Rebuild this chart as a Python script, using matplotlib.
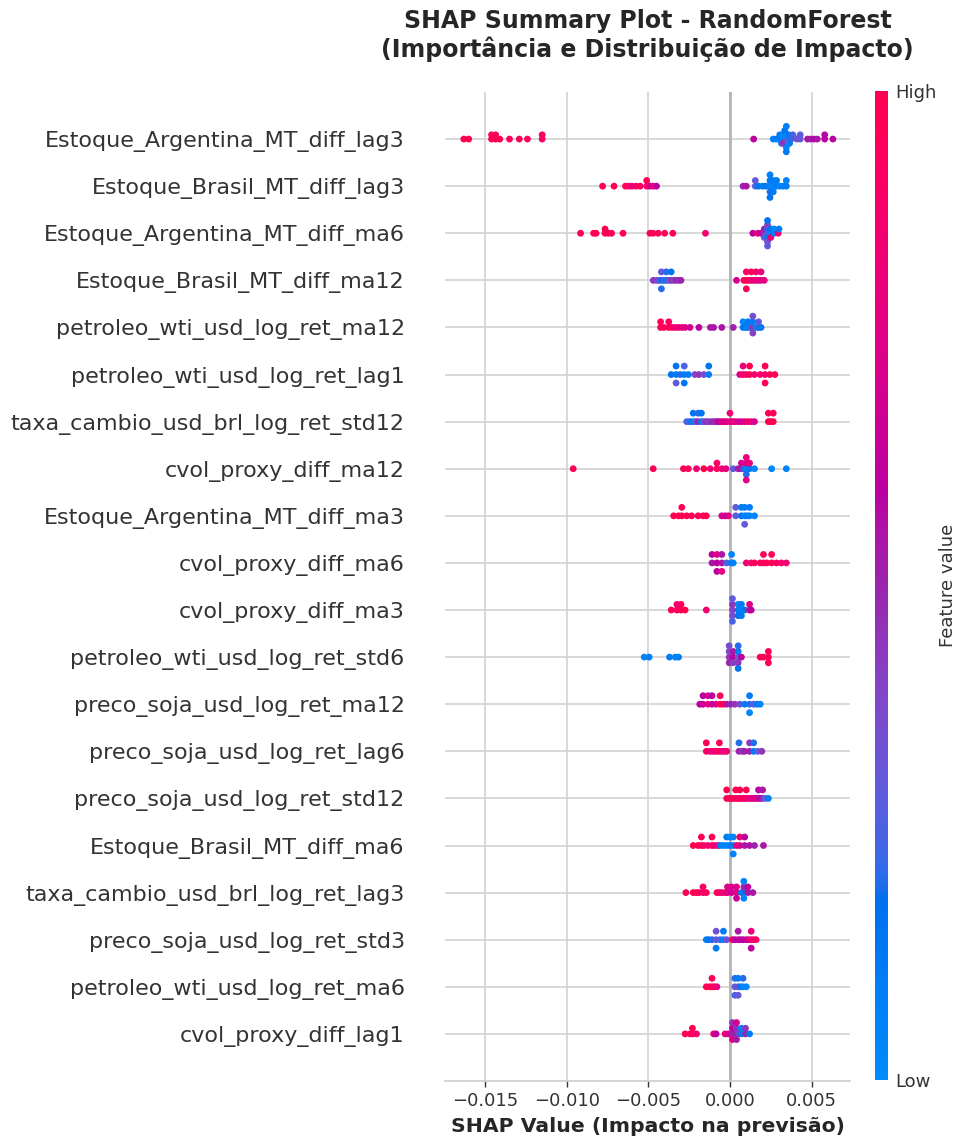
import numpy as np
import matplotlib
matplotlib.use('Agg')
import matplotlib.pyplot as plt
from matplotlib.colors import LinearSegmentedColormap, Normalize
from matplotlib.cm import ScalarMappable

# feature names, top to bottom (sorted by mean |SHAP|)
features = [
    'Estoque_Argentina_MT_diff_lag3',
    'Estoque_Brasil_MT_diff_lag3',
    'Estoque_Argentina_MT_diff_ma6',
    'Estoque_Brasil_MT_diff_ma12',
    'petroleo_wti_usd_log_ret_ma12',
    'petroleo_wti_usd_log_ret_lag1',
    'taxa_cambio_usd_brl_log_ret_std12',
    'cvol_proxy_diff_ma12',
    'Estoque_Argentina_MT_diff_ma3',
    'cvol_proxy_diff_ma6',
    'cvol_proxy_diff_ma3',
    'petroleo_wti_usd_log_ret_std6',
    'preco_soja_usd_log_ret_ma12',
    'preco_soja_usd_log_ret_lag6',
    'preco_soja_usd_log_ret_std12',
    'Estoque_Brasil_MT_diff_ma6',
    'taxa_cambio_usd_brl_log_ret_lag3',
    'preco_soja_usd_log_ret_std3',
    'petroleo_wti_usd_log_ret_ma6',
    'cvol_proxy_diff_lag1',
]

# SHAP values in units of 1e-3, and normalised feature values (0 = low, 1 = high)
s_arg_lag3 = [-16.3, -16.0, -14.6, -14.6, -14.35, -14.35, -14.1, -13.5, -12.9, -12.4, -11.5, -11.5,
              1.45, 2.65, 2.85, 3.05, 3.05, 3.15, 3.25, 3.25, 3.25, 3.35, 3.45, 3.45, 3.45, 3.55, 3.6,
              3.65, 3.75, 3.85, 4.1, 4.3, 4.3, 4.75, 4.95, 5.15, 5.35, 5.8, 5.8, 6.3]
v_arg_lag3 = [1, 1, 1, .95, 1, .95, .98, .95, 1, .97, .9, .92,
              .62, .08, .1, .05, .12, .05, .1, .02, .45, .15, .05, .08, .1, .3, .12,
              .08, .2, .25, .35, .3, .28, .55, .52, .58, .55, .6, .58, .6]

s_bra_lag3 = [-7.8, -7.1, -6.4, -6.2, -6.0, -5.75, -5.5, -5.1, -5.1, -4.9, -4.7, -4.5,
              0.8, 1.0, 1.55, 1.55, 1.75, 2.0, 2.2, 2.45, 2.45, 2.45, 2.45, 2.45, 2.65, 2.65, 2.65,
              2.85, 2.85, 3.05, 3.25, 3.45, 3.45]
v_bra_lag3 = [1, 1, .98, .95, .75, .95, .9, .95, 1, .65, .8, .6,
              .5, .55, .25, .3, .15, .1, .12, .05, .1, .2, .08, .15, .05, .1, .12,
              .08, .1, .05, .08, .1, .06]

s_arg_ma6 = [-9.15, -8.35, -8.2, -7.65, -7.65, -7.45, -7.25, -6.55, -4.9, -4.7, -4.4, -4.0, -3.5, -1.5,
             1.4, 1.7, 1.9, 2.1, 2.1, 2.1, 2.3, 2.3, 2.3, 2.3, 2.3, 2.3, 2.3, 2.5, 2.5, 2.5,
             2.7, 2.7, 2.95, 3.0]
v_arg_ma6 = [1, .98, 1, .97, 1, 1, .95, .98, 1, .97, .98, .95, 1, .85,
             .6, .85, .6, .45, .5, .3, .3, .2, .1, .4, .35, .15, .3, .05, .15, .8,
             .1, .05, .85, .1]

s_bra_ma12 = [-4.7, -4.5, -4.35, -4.2, -4.2, -4.2, -4.05, -3.9, -3.9, -3.75, -3.6, -3.6, -3.45, -3.3,
              -3.15, -3.0, 0.4, 0.85, 1.0, 1.0, 1.0, 1.15, 1.3, 1.3, 1.45, 1.6, 1.6, 1.75, 1.9, 1.9, 2.1]
v_bra_ma12 = [.45, .4, .35, .15, .3, .2, .25, .1, .2, .3, .45, .15, .4, .5,
              .45, .5, .7, .95, 1, .9, 1, .95, .85, .95, .8, .85, .9, .8, .75, .8, .8]

s_wti_ma12 = [-4.25, -4.25, -4.05, -3.75, -3.75, -3.55, -3.35, -3.15, -2.95, -2.75, -2.45, -1.9, -1.2,
              -1.0, -0.5, 0.2, 0.8, 0.8, 0.95, 1.1, 1.1, 1.25, 1.4, 1.4, 1.4, 1.4, 1.6, 1.75, 1.75, 1.9]
v_wti_ma12 = [1, .95, .98, 1, .95, .9, .85, .8, .85, .75, .7, .6, .55,
              .55, .55, .5, .1, .05, .15, .05, .1, .2, .45, .1, .4, .35, .05, .2, .3, .15]

s_wti_lag1 = [-3.6, -3.3, -3.3, -3.3, -3.05, -2.8, -2.8, -2.8, -2.55, -2.15, -1.9, -1.6, -1.3, -1.3,
              0.6, 0.8, 0.8, 1.0, 1.2, 1.2, 1.5, 1.85, 2.15, 2.15, 2.15, 2.45, 2.75]
v_wti_lag1 = [.15, .1, .15, .3, .2, .1, .25, .15, .1, .4, .45, .35, .1, .15,
              .75, .85, .8, .9, .95, 1, .85, .9, .85, 1, .95, 1, .95]

s_tcb_std12 = [-2.65, -2.45, -2.25, -2.25, -2.1, -1.95, -1.95, -1.75, -1.75, -1.6, -1.45, -1.3, -1.1,
               -0.95, -0.8, -0.65, -0.5, -0.35, -0.2, 0.0, 0.0, 0.15, 0.3, 0.5, 0.7, 0.9, 1.1, 1.3,
               1.5, 2.35, 2.35, 2.5, 2.65, 2.65]
v_tcb_std12 = [.25, .2, .1, .15, .3, .5, .2, .1, .15, .35, .45, .4, .5,
               .45, .55, .6, .8, .65, .75, .8, .85, .75, .8, .7, .65, .75, .85, .8,
               .7, 1, .98, 1, 1, .97]

s_cvol_ma12 = [-9.6, -4.7, -2.85, -2.55, -2.05, -1.6, -1.2, -0.8, -0.8, -0.5, -0.25, 0.2, 0.5, 0.7,
               0.7, 0.85, 1.0, 1.0, 1.0, 1.0, 1.0, 1.2, 1.2, 1.5, 2.55, 3.45]
v_cvol_ma12 = [1, 1, 1, .95, .85, 1, .85, .95, .9, .85, .8, .3, .5, .55,
               .7, .2, .1, .75, .2, .8, .75, .15, .8, .05, .05, .05]

s_arg_ma3 = [-3.45, -3.15, -2.95, -2.95, -2.65, -2.35, -1.95, -1.65, -1.45, -0.5, -0.3, -0.1,
             0.35, 0.35, 0.7, 0.7, 0.9, 0.9, 0.9, 1.05, 1.2, 1.2, 1.5]
v_arg_ma3 = [1, .98, 1, .95, 1, .97, 1, .95, .98, .7, .65, .75,
             .3, .3, .15, .1, .05, .1, .3, .1, .05, .1, .05]

s_cvol_ma6 = [-1.1, -1.1, -0.8, -0.8, -0.8, -0.5, -0.5, -0.5, -0.2, 0.1, 0.1, 0.2,
              1.0, 1.3, 1.5, 1.85, 2.05, 2.05, 2.25, 2.55, 2.55, 2.85, 3.15, 3.45]
v_cvol_ma6 = [.55, .6, .6, .75, .6, .55, .55, .8, .25, .1, .05, .05,
              .85, .9, .95, .9, 1, .97, .95, 1, .97, .9, .9, .85]

s_cvol_ma3 = [-3.6, -3.25, -3.25, -3.0, -3.0, -2.75, -1.45, 0.15, 0.15, 0.15, 0.15, 0.15,
              0.5, 0.5, 0.5, 0.7, 0.7, 0.7, 0.9, 1.2, 1.2, 1.3]
v_cvol_ma3 = [1, .9, .85, 1, .95, 1, .85, .4, .45, .35, .3, .25,
              .1, .05, .15, .05, .1, .12, .15, .8, .75, .6]

s_wti_std6 = [-5.25, -4.95, -3.7, -3.35, -3.15, -0.05, -0.05, -0.05, -0.05, 0.2, 0.2, 0.2,
              0.5, 0.5, 0.5, 0.5, 0.5, 0.7, 1.85, 2.05, 2.35, 2.35, 2.35]
v_wti_std6 = [.05, .08, .1, .05, .1, .45, .4, .5, .35, .6, .55, .4,
              .3, .1, .45, .2, .15, .6, 1, .95, 1, .97, 1]

s_soja_ma12 = [-1.85, -1.65, -1.65, -1.35, -1.35, -1.1, -1.1, -0.85, -0.6, -0.6, -0.4, -0.2,
               0.05, 0.3, 0.6, 0.9, 1.2, 1.2, 1.2, 1.45, 1.65, 1.85]
v_soja_ma12 = [.6, .65, .6, .8, .7, .65, .6, .7, 1, .95, 1, .55,
               .5, .45, .35, .1, .2, .1, .05, .3, .1, .05]

s_soja_lag6 = [-1.45, -1.45, -1.25, -1.1, -0.95, -0.8, -0.65, -0.65, -0.5, -0.35, -0.2,
               0.55, 0.55, 0.75, 0.9, 1.2, 1.2, 1.45, 1.45, 1.7, 1.95]
v_soja_lag6 = [.9, 1, .85, .85, .8, .85, .95, 1, .85, .8, .85,
               .5, .2, .45, .5, .55, .45, .1, .2, .3, .45]

s_soja_std12 = [-0.2, -0.2, -0.05, 0.1, 0.2, 0.35, 0.35, 0.45, 0.6, 0.6, 0.7, 0.8, 0.9, 1.0, 1.0,
                1.15, 1.3, 1.4, 1.5, 1.6, 1.75, 1.75, 1.85, 2.0, 2.0, 2.15, 2.35]
v_soja_std12 = [1, 1, .95, .9, 1, .95, 1, .9, .95, 1, 1, .9, .95, .9, 1,
                .85, .8, .75, .85, .7, .55, .6, .65, .5, .55, .3, .1]

s_bra_ma6 = [-2.25, -1.95, -1.75, -1.75, -1.6, -1.35, -1.1, -1.1, -0.95, -0.75, -0.6, -0.4, -0.2,
             -0.2, 0.0, 0.0, 0.2, 0.2, 0.2, 0.4, 0.6, 0.6, 0.9, 0.9, 1.2, 1.5, 2.05]
v_bra_ma6 = [1, .97, .95, 1, .9, .85, .9, 1, .85, .8, .1, .05, .05,
             .1, .1, .05, .1, .05, .05, .8, .75, .85, .55, .6, .55, .5, .55]

s_tcb_lag3 = [-2.7, -2.25, -2.05, -1.9, -1.65, -1.65, -1.45, -0.8, -0.65, -0.5, -0.3, -0.15, -0.15,
              0.1, 0.1, 0.4, 0.4, 0.4, 0.7, 0.85, 0.85, 0.85, 0.85, 1.1, 1.1, 1.4]
v_tcb_lag3 = [1, .98, .95, 1, .85, .9, .95, 1, .9, .85, .8, .8, .75,
              .65, .7, .8, .75, .65, .1, .15, .5, .05, .05, .55, .6, .55]

s_soja_std3 = [-1.45, -1.3, -1.1, -0.85, -0.85, -0.85, -0.6, -0.4, -0.4, -0.2, 0.15, 0.3, 0.5, 0.5,
               0.65, 0.8, 1.0, 1.15, 1.3, 1.3, 1.3, 1.45, 1.6]
v_soja_std3 = [.1, .15, .2, .3, .35, .1, .25, .05, .1, .35, 1, .6, .6, .55,
               .65, .6, .6, .75, .85, .8, .6, .9, .9]

s_wti_ma6 = [-1.45, -1.25, -1.1, -1.1, -0.95, -0.8, 0.3, 0.3, 0.3, 0.5, 0.5, 0.5, 0.65, 0.8, 0.8, 1.0]
v_wti_ma6 = [1, .95, 1, 1, .9, .8, .3, .2, .25, .35, .1, .3, .15, .05, .2, .05]

s_cvol_lag1 = [-2.75, -2.45, -2.3, -2.3, -2.05, -1.0, -0.85, -0.3, -0.1, 0.15, 0.15, 0.15, 0.15,
               0.4, 0.4, 0.4, 0.4, 0.55, 0.7, 0.7, 0.95, 0.95, 1.2]
v_cvol_lag1 = [1, .95, .95, 1, .85, .85, .6, .8, .7, .5, .6, .75, .45,
               .5, .45, .55, .7, .4, .1, .05, .5, .45, .1]

shap_rows = [s_arg_lag3, s_bra_lag3, s_arg_ma6, s_bra_ma12, s_wti_ma12, s_wti_lag1, s_tcb_std12,
             s_cvol_ma12, s_arg_ma3, s_cvol_ma6, s_cvol_ma3, s_wti_std6, s_soja_ma12, s_soja_lag6,
             s_soja_std12, s_bra_ma6, s_tcb_lag3, s_soja_std3, s_wti_ma6, s_cvol_lag1]
value_rows = [v_arg_lag3, v_bra_lag3, v_arg_ma6, v_bra_ma12, v_wti_ma12, v_wti_lag1, v_tcb_std12,
              v_cvol_ma12, v_arg_ma3, v_cvol_ma6, v_cvol_ma3, v_wti_std6, v_soja_ma12, v_soja_lag6,
              v_soja_std12, v_bra_ma6, v_tcb_lag3, v_soja_std3, v_wti_ma6, v_cvol_lag1]


def lch2rgb(l, c, h):
    # CIE LCh -> sRGB (D65)
    a, b = c * np.cos(h), c * np.sin(h)
    fy = (l + 16) / 116
    fx, fz = fy + a / 500, fy - b / 200

    def finv(t):
        return np.where(t > 6 / 29, t ** 3, 3 * (6 / 29) ** 2 * (t - 4 / 29))

    xyz = np.array([0.95047 * finv(fx), finv(fy), 1.08883 * finv(fz)])
    m = np.array([[3.2406, -1.5372, -0.4986],
                  [-0.9689, 1.8758, 0.0415],
                  [0.0557, -0.2040, 1.0570]])
    rgb = m @ xyz
    rgb = np.where(rgb <= 0.0031308, 12.92 * rgb, 1.055 * np.abs(rgb) ** (1 / 2.4) - 0.055)
    return np.clip(rgb, 0, 1)


def red_blue_cmap():
    blue_lch = [54., 70., 4.6588]
    red_lch = [54., 90., 0.35470565 + 2 * np.pi]
    l_mid = 40.
    n = 100
    ls = list(np.linspace(blue_lch[0], l_mid, n // 2)) + list(np.linspace(l_mid, red_lch[0], n // 2))
    cs = np.linspace(blue_lch[1], red_lch[1], n)
    hs = np.linspace(blue_lch[2], red_lch[2], n)
    cols = [lch2rgb(l, c, h) for l, c, h in zip(ls, cs, hs)]
    return LinearSegmentedColormap.from_list('red_blue', cols)


def beeswarm_offsets(shaps, row_height=0.4, nbins=100):
    shaps = np.asarray(shaps, dtype=float)
    quant = np.round(nbins * (shaps - shaps.min()) / (shaps.max() - shaps.min() + 1e-8))
    inds = np.argsort(quant, kind='stable')
    layer = 0
    last_bin = -1
    ys = np.zeros(len(shaps))
    for ind in inds:
        if quant[ind] != last_bin:
            layer = 0
        ys[ind] = np.ceil(layer / 2) * ((layer % 2) * 2 - 1)
        layer += 1
        last_bin = quant[ind]
    ys *= 0.9 * (row_height / np.max(ys + 1))
    return ys


cmap = red_blue_cmap()
axis_color = '#333333'

fig = plt.figure(figsize=(9.57, 11.41), dpi=100)
ax = fig.add_axes([0.465, 0.0526, 0.4232, 0.8668])

n = len(features)
for i, (svals, fvals) in enumerate(zip(shap_rows, value_rows)):
    pos = n - 1 - i
    shaps = np.array(svals) * 1e-3
    ys = beeswarm_offsets(shaps)
    ax.scatter(shaps, pos + ys, c=fvals, cmap=cmap, vmin=0, vmax=1,
               s=24, linewidth=0, zorder=3)

ax.axvline(0, color='#b5b5b5', lw=2, zorder=2)

ax.set_xlim(-0.01745, 0.00735)
ax.set_ylim(-1, n)
ax.set_xticks([-0.015, -0.010, -0.005, 0.0, 0.005])
ax.set_yticks(range(n))
ax.set_yticklabels(features[::-1], fontsize=16, color=axis_color)
ax.grid(True, color='#d3d3d3', lw=1.2, zorder=0)
ax.set_axisbelow(True)

for side in ['top', 'right', 'left']:
    ax.spines[side].set_visible(False)
ax.spines['bottom'].set_color('#cccccc')
ax.spines['bottom'].set_linewidth(1.2)
ax.tick_params('y', length=0, pad=29)
ax.tick_params('x', length=4, width=1, color=axis_color, labelcolor=axis_color,
               labelsize=13, pad=4)

ax.set_xlabel('SHAP Value (Impacto na previsão)', fontsize=14.7, fontweight='bold',
              color='#262626', labelpad=5)
ax.set_title('SHAP Summary Plot - RandomForest\n(Importância e Distribuição de Impacto)',
             fontsize=17, fontweight='bold', color='#262626', pad=25)

cax = fig.add_axes([875 / 957, 0.0535, 13 / 957, 0.8668])
sm = ScalarMappable(norm=Normalize(0, 1), cmap=cmap)
cb = fig.colorbar(sm, cax=cax, ticks=[0, 1])
cb.set_ticklabels(['Low', 'High'])
cb.ax.tick_params(labelsize=13, length=0, labelcolor=axis_color, pad=5)
cb.outline.set_visible(False)
cb.set_label('Feature value', size=13, labelpad=2, color=axis_color)

fig.savefig('out.png', dpi=100)
